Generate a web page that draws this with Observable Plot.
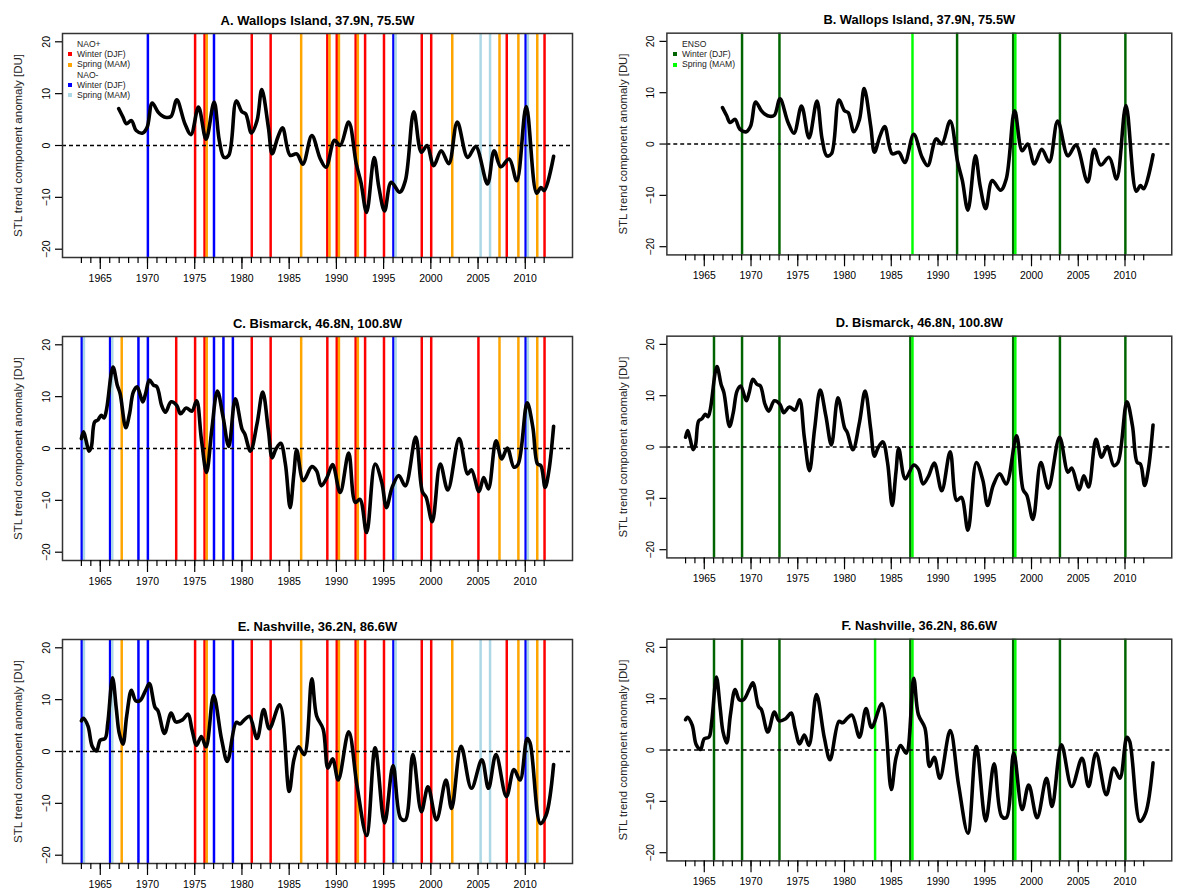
<!DOCTYPE html>
<html><head><meta charset="utf-8">
<script src="https://cdn.jsdelivr.net/npm/d3@7"></script>
<script src="https://cdn.jsdelivr.net/npm/@observablehq/plot@0.6"></script>
<style>
body{margin:0;background:#fff;font-family:"Liberation Sans",Arial,sans-serif;}
#wrap{position:relative;width:1197px;height:890px;overflow:hidden;background:#fff}
.panel{position:absolute}
.legend{position:absolute;font-size:8.6px;color:#222;line-height:10.1px}
.legend .row{display:flex;align-items:center;height:10.1px;white-space:nowrap}
.legend .sw{width:8px;display:flex;justify-content:center;margin-right:3px}
.legend .sw i{display:block;width:4px;height:4px}
</style></head><body><div id="wrap"></div>
<script>
// ---- STL trend component anomaly curves [year, DU] ----
const wallops = [[1966.95,7.1],[1967.4,5.5],[1967.76,4.2],[1968.3,4.8],[1968.8,2.9],[1969.5,2.4],[1969.96,3.5],[1970.5,8.2],[1971.1,6.5],[1971.5,5.8],[1972.0,5.4],[1972.5,5.6],[1973.1,8.8],[1973.96,4.2],[1974.6,2.1],[1975.4,7.4],[1976.2,1.2],[1977.05,8.4],[1977.6,1.0],[1978.1,-2.3],[1978.6,-1.9],[1979.4,8.6],[1980.0,6.5],[1980.4,6.1],[1981.0,2.4],[1981.6,4.8],[1982.1,10.8],[1982.8,3.5],[1983.2,-1.6],[1983.8,1.6],[1984.3,3.4],[1985.1,-1.9],[1985.8,-1.6],[1986.45,-3.6],[1987.4,1.9],[1988.3,-2.6],[1988.9,-4.2],[1989.8,1.0],[1990.4,0],[1991.3,4.5],[1992.1,-3.5],[1992.6,-7.1],[1993.2,-12.9],[1994.0,-2.3],[1994.5,-8.1],[1995.1,-12.6],[1995.8,-7.1],[1996.7,-9.0],[1997.3,-6.8],[1998.2,6.5],[1999.0,-1.3],[1999.6,0],[2000.3,-3.9],[2001.1,-1.0],[2001.9,-3.5],[2002.8,4.5],[2003.9,-2.3],[2004.75,-0.2],[2006.0,-7.4],[2006.7,-1.0],[2007.4,-4.1],[2008.3,-2.6],[2009.1,-6.8],[2010.1,7.5],[2011.2,-9.2],[2011.65,-8.1],[2012.0,-8.7],[2013.0,-2.1]];

const bismarck = [[1963.0,1.9],[1963.23,3.2],[1963.5,1.5],[1963.8,-0.5],[1964.05,0.3],[1964.4,5.1],[1964.75,5.5],[1965.1,6.4],[1965.4,5.9],[1965.65,7.4],[1966.35,15.7],[1966.8,12.2],[1967.1,10.6],[1967.7,4.0],[1968.1,6.7],[1968.5,10.9],[1968.9,11.9],[1969.5,9.0],[1969.8,10.6],[1970.2,13.2],[1970.65,12.2],[1971.0,11.9],[1971.5,8.3],[1971.9,7.0],[1972.5,9.0],[1973.1,8.3],[1973.5,6.7],[1974.1,7.8],[1974.7,7.2],[1975.2,9.2],[1975.7,1.9],[1976.25,-4.6],[1976.8,3.5],[1977.4,11.1],[1978.0,6.1],[1978.6,0.4],[1979.3,9.6],[1980.0,3.8],[1980.3,2.8],[1980.9,-0.5],[1981.6,4.8],[1982.2,10.9],[1982.8,3.5],[1983.2,-1.8],[1983.6,-0.1],[1984.1,1.0],[1984.6,-3.0],[1985.1,-11.4],[1985.5,-4.9],[1985.8,-0.3],[1986.5,-6.2],[1987.4,-3.5],[1987.9,-4.3],[1988.4,-7.2],[1989.0,-5.6],[1989.6,-3.1],[1990.4,-8.5],[1991.3,-0.9],[1992.0,-10.4],[1992.5,-9.8],[1993.2,-16.2],[1994.1,-3.0],[1994.8,-6.5],[1995.3,-11.4],[1995.9,-7.5],[1996.6,-5.2],[1997.3,-7.2],[1998.4,2.2],[1999.1,-8.3],[1999.5,-9.4],[2000.15,-14.1],[2001.0,-3.0],[2001.8,-8.0],[2003.0,1.9],[2003.9,-4.9],[2004.3,-4.1],[2005.1,-8.3],[2005.6,-5.6],[2006.1,-7.8],[2006.9,1.5],[2007.5,-2.0],[2008.1,0.1],[2008.8,-3.6],[2009.25,-3.0],[2010.2,8.8],[2010.8,4.1],[2011.3,-3.0],[2011.65,-3.3],[2012.1,-7.5],[2012.5,-4.3],[2013.0,4.3]];

const nashville = [[1963.0,5.9],[1963.2,6.4],[1963.7,4.9],[1964.15,1.0],[1964.6,0.1],[1965.0,2.2],[1965.5,2.5],[1965.8,5.6],[1966.3,14.2],[1966.7,8.2],[1967.0,3.6],[1967.4,1.4],[1967.8,6.9],[1968.3,11.8],[1968.75,9.8],[1969.2,9.8],[1969.8,11.8],[1970.2,13.1],[1970.8,8.5],[1971.1,7.9],[1971.8,3.5],[1972.5,7.4],[1973.0,5.7],[1973.7,6.1],[1974.3,7.2],[1974.7,4.3],[1975.2,1.2],[1975.7,2.9],[1976.2,0.9],[1977.0,10.8],[1977.85,2.3],[1978.45,-1.9],[1979.4,5.6],[1979.8,5.3],[1980.3,6.2],[1980.8,6.8],[1981.6,2.5],[1982.3,8.1],[1982.9,4.4],[1984.0,9.0],[1985.0,-7.7],[1985.5,-1.6],[1986.0,0.9],[1986.6,-0.6],[1987.4,14.0],[1987.9,6.9],[1988.6,4.3],[1989.1,-3.2],[1989.6,-1.4],[1990.2,-5.5],[1991.3,3.8],[1992.2,-6.8],[1993.2,-16.2],[1994.1,0.7],[1995.1,-13.8],[1996.0,-2.7],[1996.8,-12.9],[1997.3,-13.2],[1998.1,-0.6],[1999.0,-11.6],[1999.7,-6.8],[2000.6,-13.2],[2001.6,-5.5],[2002.2,-11.0],[2003.2,1.0],[2004.3,-7.1],[2005.4,-1.6],[2006.1,-7.1],[2006.9,-0.6],[2008.0,-8.7],[2008.8,-3.5],[2009.45,-5.5],[2010.2,2.5],[2010.5,1.7],[2011.6,-13.9],[2012.2,-12.3],[2013.0,-2.5]];

// ---- Event years ----
const naoPosWinterA = [1975,1976,1981,1983,1989,1990,1992,1993,1995,1999,2000,2008,2012];
const naoPosSpringA = [1976,1986,1989,1990,1992,2002,2007,2009,2011];
const naoNegWinterA = [1970,1977,1996,2010];
const naoNegSpringA = [1996,2005,2006,2010];

const naoPosWinterC = [1973,1975,1976,1981,1983,1989,1990,1992,1993,1995,1999,2000,2005,2012];
const naoPosSpringC = [1967,1976,1986,1990,1992,2007,2009,2011];
const naoNegWinterC = [1963,1966,1969,1970,1977,1978,1979,1996,2010];
const naoNegSpringC = [1963,1966,1996,2010];

const naoPosWinterE = [1975,1976,1981,1983,1989,1990,1992,1993,1995,1999,2000,2008,2012];
const naoPosSpringE = [1967,1976,1986,1990,1992,2002,2009,2011];
const naoNegWinterE = [1963,1966,1969,1970,1977,1979,1996,2010];
const naoNegSpringE = [1963,1966,1996,2005,2006,2010];

const ensoWinterB = [1969,1973,1992,1998,2003,2010];
const ensoSpringB = [1987,1998];
const ensoWinterD = [1966,1969,1973,1987,1998,2003,2010];
const ensoSpringD = [1987,1998];
const ensoWinterF = [1966,1969,1973,1987,1998,2003,2010];
const ensoSpringF = [1983,1987,1998];

// ---- Axis ticks ----
const minorTicks = d3.range(1963, 2013);
const majorTicks = [1965,1970,1975,1980,1985,1990,1995,2000,2005,2010];
const yTicks = [-20,-10,0,10,20];
const yLabel = "STL trend component anomaly [DU]";

const WINTER = 0.04, SPRING = 0.27;
const COL = {posW:"#FF0000", posS:"#FFA500", negW:"#0000FF", negS:"#ADD8E6", ensoW:"#006400", ensoS:"#00FF00"};

const wrap = document.getElementById("wrap");

function makePanel({title, series, events, left, top, legend}) {
  const data = series.map(([year, value]) => ({year, value}));
  const marks = [];
  for (const ev of events) {
    marks.push(Plot.ruleX(ev.years, {x: d => d + ev.offset, stroke: ev.color, strokeWidth: 2.5}));
  }
  marks.push(
    Plot.ruleY([0], {stroke: "black", strokeWidth: 1.4, strokeDasharray: "4,3"}),
    Plot.line(data, {x: "year", y: "value", curve: "catmull-rom", stroke: "black", strokeWidth: 3.6, strokeLinejoin: "round", strokeLinecap: "round"}),
    Plot.frame({stroke: "#333", strokeWidth: 1.5}),
    Plot.axisX(minorTicks, {tickSize: 6, tickFormat: () => "", strokeWidth: 1.2}),
    Plot.axisX(majorTicks, {tickSize: 12, tickPadding: 5, tickFormat: d => String(d), fontSize: 10.5, strokeWidth: 1.2}),
    Plot.axisY(yTicks, {tickSize: 7, tickRotate: -90, tickPadding: 6, fontSize: 10.5, strokeWidth: 1.2}),
    Plot.text([title], {frameAnchor: "top", dy: -18, fontSize: 13, fontWeight: "bold", fill: "black"}),
    Plot.text([yLabel], {frameAnchor: "left", textAnchor: "middle", rotate: -90, dx: -44, fontSize: 11.5, fill: "#222"})
  );
  const svg = Plot.plot({
    width: 598, height: 300,
    marginTop: 33, marginBottom: 43, marginLeft: 62, marginRight: 26,
    x: {domain: [1961, 2015], label: null},
    y: {domain: [-21.6, 21.6], label: null},
    style: {fontFamily: "'Liberation Sans', Arial, sans-serif", color: "black", background: "white", overflow: "visible"},
    marks
  });
  const div = document.createElement("div");
  div.className = "panel";
  div.style.left = left + "px";
  div.style.top = top + "px";
  div.appendChild(svg);
  wrap.appendChild(div);
  if (legend) {
    const lg = document.createElement("div");
    lg.className = "legend";
    lg.style.left = (left + 66) + "px";
    lg.style.top = (top + 39.3) + "px";
    for (const [label, color] of legend) {
      const row = document.createElement("div");
      row.className = "row";
      const sw = document.createElement("span");
      sw.className = "sw";
      if (color) { const i = document.createElement("i"); i.style.background = color; sw.appendChild(i); }
      row.appendChild(sw);
      const t = document.createElement("span");
      t.textContent = label;
      row.appendChild(t);
      lg.appendChild(row);
    }
    wrap.appendChild(lg);
  }
}

function naoEvents(pw, ps, nw, ns) {
  return [
    {years: pw, offset: WINTER, color: COL.posW},
    {years: ps, offset: SPRING, color: COL.posS},
    {years: nw, offset: WINTER, color: COL.negW},
    {years: ns, offset: SPRING, color: COL.negS}
  ];
}
function ensoEvents(w, s) {
  return [
    {years: w, offset: WINTER, color: COL.ensoW},
    {years: s, offset: SPRING, color: COL.ensoS}
  ];
}

const naoLegend = [["NAO+", null], ["Winter (DJF)", COL.posW], ["Spring (MAM)", COL.posS], ["NAO-", null], ["Winter (DJF)", COL.negW], ["Spring (MAM)", COL.negS]];
const ensoLegend = [["ENSO", null], ["Winter (DJF)", COL.ensoW], ["Spring (MAM)", COL.ensoS]];

makePanel({title: "A. Wallops Island, 37.9N, 75.5W", series: wallops, events: naoEvents(naoPosWinterA, naoPosSpringA, naoNegWinterA, naoNegSpringA), left: 0, top: 0, legend: naoLegend});
makePanel({title: "B. Wallops Island, 37.9N, 75.5W", series: wallops, events: ensoEvents(ensoWinterB, ensoSpringB), left: 605, top: 0, legend: ensoLegend});
makePanel({title: "C. Bismarck, 46.8N, 100.8W", series: bismarck, events: naoEvents(naoPosWinterC, naoPosSpringC, naoNegWinterC, naoNegSpringC), left: 0, top: 303});
makePanel({title: "D. Bismarck, 46.8N, 100.8W", series: bismarck, events: ensoEvents(ensoWinterD, ensoSpringD), left: 605, top: 303});
makePanel({title: "E. Nashville, 36.2N, 86.6W", series: nashville, events: naoEvents(naoPosWinterE, naoPosSpringE, naoNegWinterE, naoNegSpringE), left: 0, top: 606});
makePanel({title: "F. Nashville, 36.2N, 86.6W", series: nashville, events: ensoEvents(ensoWinterF, ensoSpringF), left: 605, top: 606});
</script></body></html>
